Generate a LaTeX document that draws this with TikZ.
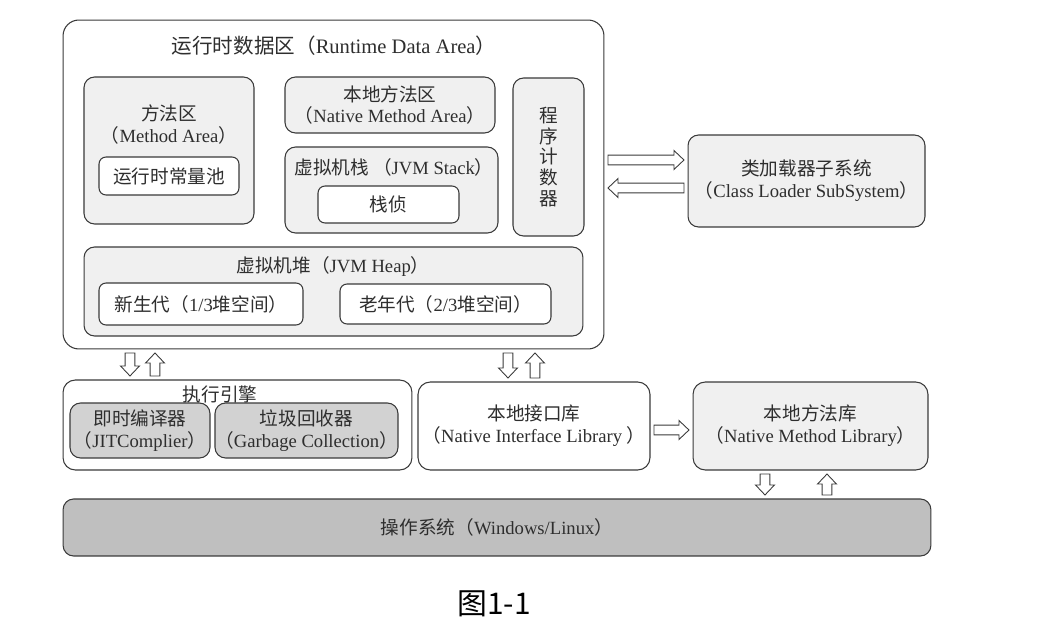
\documentclass[tikz,border=0pt]{standalone}
\usepackage{fontspec}
\setmainfont{Liberation Serif}
\newfontfamily\cjk{Noto Sans CJK SC}
\usetikzlibrary{calc}
\newcommand{\zh}[1]{{\cjk #1}}
\definecolor{linegray}{HTML}{3A3A3A}
\definecolor{textgray}{HTML}{2E2E2E}
\definecolor{areagray}{HTML}{F0F0F0}
\definecolor{darkgray}{HTML}{D2D2D2}
\definecolor{osgray}{HTML}{BFBFBF}

\begin{document}
\begin{tikzpicture}[x=0.02cm,y=-0.02cm,text=textgray,
	font=\fontsize{10.6}{12.5}\selectfont,
	outer_box/.style={draw=linegray,fill=white,rounded corners=9pt,line width=0.6pt,inner sep=0pt},
	area_box/.style={draw=linegray,fill=areagray,rounded corners=6pt,line width=0.6pt,inner sep=0pt,align=center},
	white_box/.style={draw=linegray,fill=white,rounded corners=4pt,line width=0.6pt,inner sep=0pt,align=center},
	gray_box/.style={draw=linegray,fill=darkgray,rounded corners=6pt,line width=0.6pt,inner sep=0pt,align=center},
	hollow_arrow/.style={draw=linegray,fill=white,line width=0.5pt,
		to path={let \p1=(\tikztostart),\p2=(\tikztotarget),
			\n1={atan2(\y2-\y1,\x2-\x1)},
			\n2={veclen(\x2-\x1,\y2-\y1)-2pt},
			\n3={veclen(\x2-\x1,\y2-\y1)-7.7pt} in
			([shift={(\p1)},rotate=\n1]2pt,2.8pt) -- ([shift={(\p1)},rotate=\n1]\n3,2.8pt)
			-- ([shift={(\p1)},rotate=\n1]\n3,5.4pt) -- ([shift={(\p1)},rotate=\n1]\n2,0pt)
			-- ([shift={(\p1)},rotate=\n1]\n3,-5.4pt) -- ([shift={(\p1)},rotate=\n1]\n3,-2.8pt)
			-- ([shift={(\p1)},rotate=\n1]2pt,-2.8pt) -- cycle}}]

	\useasboundingbox (0,0) rectangle (1039,642);

	% runtime data area
	\node[outer_box,minimum width=10.82cm,minimum height=6.58cm] (rda) at (333.5,184.5) {};
	\node[font=\fontsize{11.7}{14}\selectfont] (rda_title) at (334,46) {\zh{运行时数据区（}Runtime Data Area\zh{）}};

	\node[area_box,minimum width=3.4cm,minimum height=2.94cm] (method) at (169,150.5) {};
	\node[align=center] (method_title) at (169,124.5) {\zh{方法区}\\\zh{（}Method Area\zh{）}};
	\node[white_box,minimum width=2.8cm,minimum height=0.76cm] (pool) at (169,176) {\zh{运行时常量池}};

	\node[area_box,minimum width=4.2cm,minimum height=1.12cm] (nma) at (390,105) {\zh{本地方法区}\\\zh{（}Native Method Area\zh{）}};

	\node[area_box,minimum width=4.26cm,minimum height=1.72cm] (stack) at (391.5,190) {};
	\node (stack_title) at (394,167) {\zh{虚拟机栈 （}JVM Stack\zh{）}};
	\node[white_box,minimum width=2.82cm,minimum height=0.74cm] (frame) at (388.5,204.5) {\zh{栈侦}};

	\node[area_box,font=\fontsize{10.6}{11.8}\selectfont\cjk,minimum width=1.42cm,minimum height=3.16cm] (pc) at (548.5,157) {程\\序\\计\\数\\器};

	\node[area_box,minimum width=9.98cm,minimum height=1.78cm] (heap) at (333.5,291.5) {};
	\node (heap_title) at (333,267) {\zh{虚拟机堆（}JVM Heap\zh{）}};
	\node[white_box,minimum width=4.08cm,minimum height=0.84cm] (young) at (201,304) {\zh{新生代（}1/3\zh{堆空间）}};
	\node[white_box,minimum width=4.22cm,minimum height=0.8cm] (old) at (445.5,304) {\zh{老年代（}2/3\zh{堆空间）}};

	% class loader
	\node[area_box,minimum width=4.74cm,minimum height=1.84cm] (loader) at (806.5,181) {\zh{类加载器子系统}\\\zh{（}Class Loader SubSystem\zh{）}};

	% execution engine
	\node[outer_box,rounded corners=7pt,minimum width=6.98cm,minimum height=1.8cm] (exec) at (237.5,425) {};
	\node[gray_box,minimum width=2.8cm,minimum height=1.1cm] (jit) at (140,430.5) {\zh{即时编译器}\\\zh{（}JITComplier\zh{）}};
	\node[gray_box,minimum width=3.66cm,minimum height=1.1cm] (gc) at (306.5,430.5) {\zh{垃圾回收器}\\\zh{（}Garbage Collection\zh{）}};
	\node (exec_title) at (220,394) {\zh{执行引擎}};

	\node[white_box,rounded corners=7pt,minimum width=4.64cm,minimum height=1.76cm] (nil) at (534,426) {\zh{本地接口库}\\\zh{（}Native Interface Library \zh{）}};
	\node[area_box,rounded corners=7pt,minimum width=4.7cm,minimum height=1.76cm] (nml) at (810.5,426) {\zh{本地方法库}\\\zh{（}Native Method Library\zh{）}};

	\node[area_box,fill=osgray,minimum width=17.36cm,minimum height=1.14cm] (os) at (497,527.5) {\zh{操作系统（}Windows/Linux\zh{）}};

	\node[font=\fontsize{17}{20}\selectfont\cjk,text=black] (caption) at (494,604) {图1-1};

	% arrows
	\draw[hollow_arrow] (rda.east |- 0,160) to (loader.west |- 0,160);
	\draw[hollow_arrow] (loader.west |- 0,188) to (rda.east |- 0,188);
	\draw[hollow_arrow] (130,0 |- rda.south) to (130,0 |- exec.north);
	\draw[hollow_arrow] (155,0 |- exec.north) to (155,0 |- rda.south);
	\draw[hollow_arrow] (508,0 |- rda.south) to (508,0 |- nil.north);
	\draw[hollow_arrow] (535,0 |- nil.north) to (535,0 |- rda.south);
	\draw[hollow_arrow] (nil.east |- 0,430) to (nml.west |- 0,430);
	\draw[hollow_arrow] (765,0 |- nml.south) to (765,0 |- os.north);
	\draw[hollow_arrow] (827,0 |- os.north) to (827,0 |- nml.south);
\end{tikzpicture}
\end{document}
